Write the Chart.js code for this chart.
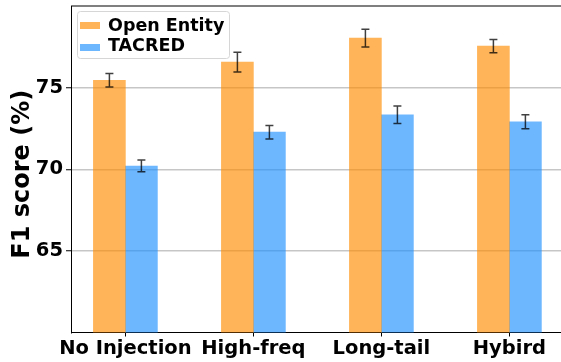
<!DOCTYPE html>
<html>
<head>
<meta charset="utf-8">
<script src="https://cdn.jsdelivr.net/npm/chart.js@4/dist/chart.umd.min.js"></script>
<style>
  html, body { margin: 0; padding: 0; overflow: hidden; background: #fff; }
  #wrap { width: 566px; height: 362px; }
</style>
</head>
<body>
<div id="wrap"><canvas id="c" width="566" height="362"></canvas></div>
<script>
// Knowledge-injection strategies and F1 scores (%) with standard deviations
const categories = ['No Injection', 'High-freq', 'Long-tail', 'Hybird'];
const openEntity = [75.45, 76.56, 78.03, 77.54];
const openEntityErr = [0.41, 0.61, 0.54, 0.41];
const tacred = [70.20, 72.27, 73.34, 72.91];
const tacredErr = [0.36, 0.41, 0.53, 0.43];
const yTicks = [65, 70, 75];
const yTitle = 'F1 score (%)';

const FONT = "'DejaVu Sans', sans-serif";
const orange = 'rgba(255, 140, 0, 0.65)';
const blue = 'rgba(30, 144, 255, 0.65)';

const toPoints = (vals) => vals.map((v, i) => ({ x: i, y: v }));

// Error bars drawn from each bar's own value and deviation
const errorBars = {
  id: 'errorBars',
  afterDatasetsDraw(chart) {
    const { ctx } = chart;
    const yScale = chart.scales.y;
    const errs = [openEntityErr, tacredErr];
    chart.data.datasets.forEach((ds, di) => {
      const meta = chart.getDatasetMeta(di);
      meta.data.forEach((bar, i) => {
        const v = ds.data[i].y;
        const e = errs[di][i];
        const yTop = yScale.getPixelForValue(v + e);
        const yBot = yScale.getPixelForValue(v - e);
        const x = bar.x;
        ctx.save();
        ctx.strokeStyle = 'rgba(0,0,0,0.75)';
        ctx.lineWidth = 1.5;
        ctx.beginPath();
        ctx.moveTo(x, yTop); ctx.lineTo(x, yBot);
        ctx.moveTo(x - 4, yTop); ctx.lineTo(x + 4, yTop);
        ctx.moveTo(x - 4, yBot); ctx.lineTo(x + 4, yBot);
        ctx.stroke();
        ctx.restore();
      });
    });
  }
};

// Top frame line, rotated y-axis title and boxed legend
const frameAndLegend = {
  id: 'frameAndLegend',
  afterDraw(chart) {
    const { ctx, chartArea } = chart;
    ctx.save();
    ctx.strokeStyle = '#000';
    ctx.lineWidth = 1.2;
    ctx.beginPath();
    ctx.moveTo(chartArea.left, chartArea.top);
    ctx.lineTo(chartArea.right, chartArea.top);
    ctx.stroke();

    // y-axis title
    ctx.save();
    ctx.translate(23, (chartArea.top + chartArea.bottom) / 2 + 5);
    ctx.rotate(-Math.PI / 2);
    ctx.font = `bold 24px ${FONT}`;
    ctx.textAlign = 'center';
    ctx.textBaseline = 'middle';
    ctx.fillStyle = '#000';
    ctx.fillText(yTitle, 0, 0);
    ctx.restore();

    // legend frame
    const bx = 77.5, by = 11.5, bw = 152, bh = 47, r = 3;
    ctx.beginPath();
    ctx.moveTo(bx + r, by);
    ctx.lineTo(bx + bw - r, by);
    ctx.arcTo(bx + bw, by, bx + bw, by + r, r);
    ctx.lineTo(bx + bw, by + bh - r);
    ctx.arcTo(bx + bw, by + bh, bx + bw - r, by + bh, r);
    ctx.lineTo(bx + r, by + bh);
    ctx.arcTo(bx, by + bh, bx, by + bh - r, r);
    ctx.lineTo(bx, by + r);
    ctx.arcTo(bx, by, bx + r, by, r);
    ctx.closePath();
    ctx.fillStyle = 'rgba(255,255,255,0.8)';
    ctx.fill();
    ctx.strokeStyle = '#d6d6d6';
    ctx.lineWidth = 1;
    ctx.stroke();

    ctx.font = `bold 17.5px ${FONT}`;
    ctx.textBaseline = 'alphabetic';
    chart.data.datasets.forEach((ds, i) => {
      ctx.fillStyle = ds.backgroundColor;
      ctx.fillRect(80, 22 + i * 22, 20, 7);
      ctx.fillStyle = '#000';
      ctx.fillText(ds.label, 108, 31 + i * 20);
    });
    ctx.restore();
  }
};

new Chart(document.getElementById('c'), {
  type: 'bar',
  data: {
    datasets: [
      { label: 'Open Entity', data: toPoints(openEntity), backgroundColor: orange, barThickness: 32 },
      { label: 'TACRED', data: toPoints(tacred), backgroundColor: blue, barThickness: 32 }
    ]
  },
  options: {
    responsive: false,
    animation: false,
    layout: { padding: { top: 6, right: 2.2, left: 0, bottom: 0 } },
    plugins: { legend: { display: false }, tooltip: { enabled: false } },
    scales: {
      x: {
        type: 'linear',
        offset: false,
        min: -0.425,
        max: 3.425,
        afterBuildTicks: (s) => { s.ticks = categories.map((_, i) => ({ value: i })); },
        afterFit: (s) => { s.height = 29.5; s.paddingLeft = 0; s.paddingRight = 0; },
        ticks: {
          callback: (v) => categories[v],
          color: '#000',
          font: { family: FONT, size: 19.5, weight: 'bold' },
          padding: 1,
          maxRotation: 0,
          autoSkip: false
        },
        grid: { drawOnChartArea: false, offset: false, tickLength: 4, color: '#000', tickWidth: 1 },
        border: { color: '#000', width: 1 }
      },
      y: {
        min: 60,
        max: 80,
        z: 1,
        afterBuildTicks: (s) => { s.ticks = yTicks.map((v) => ({ value: v })); },
        afterFit: (s) => { s.width = 71; s.paddingTop = 0; s.paddingBottom = 0; },
        ticks: {
          color: '#000',
          font: { family: FONT, size: 19.5, weight: 'bold' },
          padding: 3
        },
        grid: { color: 'rgba(128,128,128,0.45)', lineWidth: 1.5, tickLength: 5, tickColor: '#000', tickWidth: 1 },
        border: { color: '#000', width: 1 }
      }
    }
  },
  plugins: [errorBars, frameAndLegend]
});
</script>
</body>
</html>
